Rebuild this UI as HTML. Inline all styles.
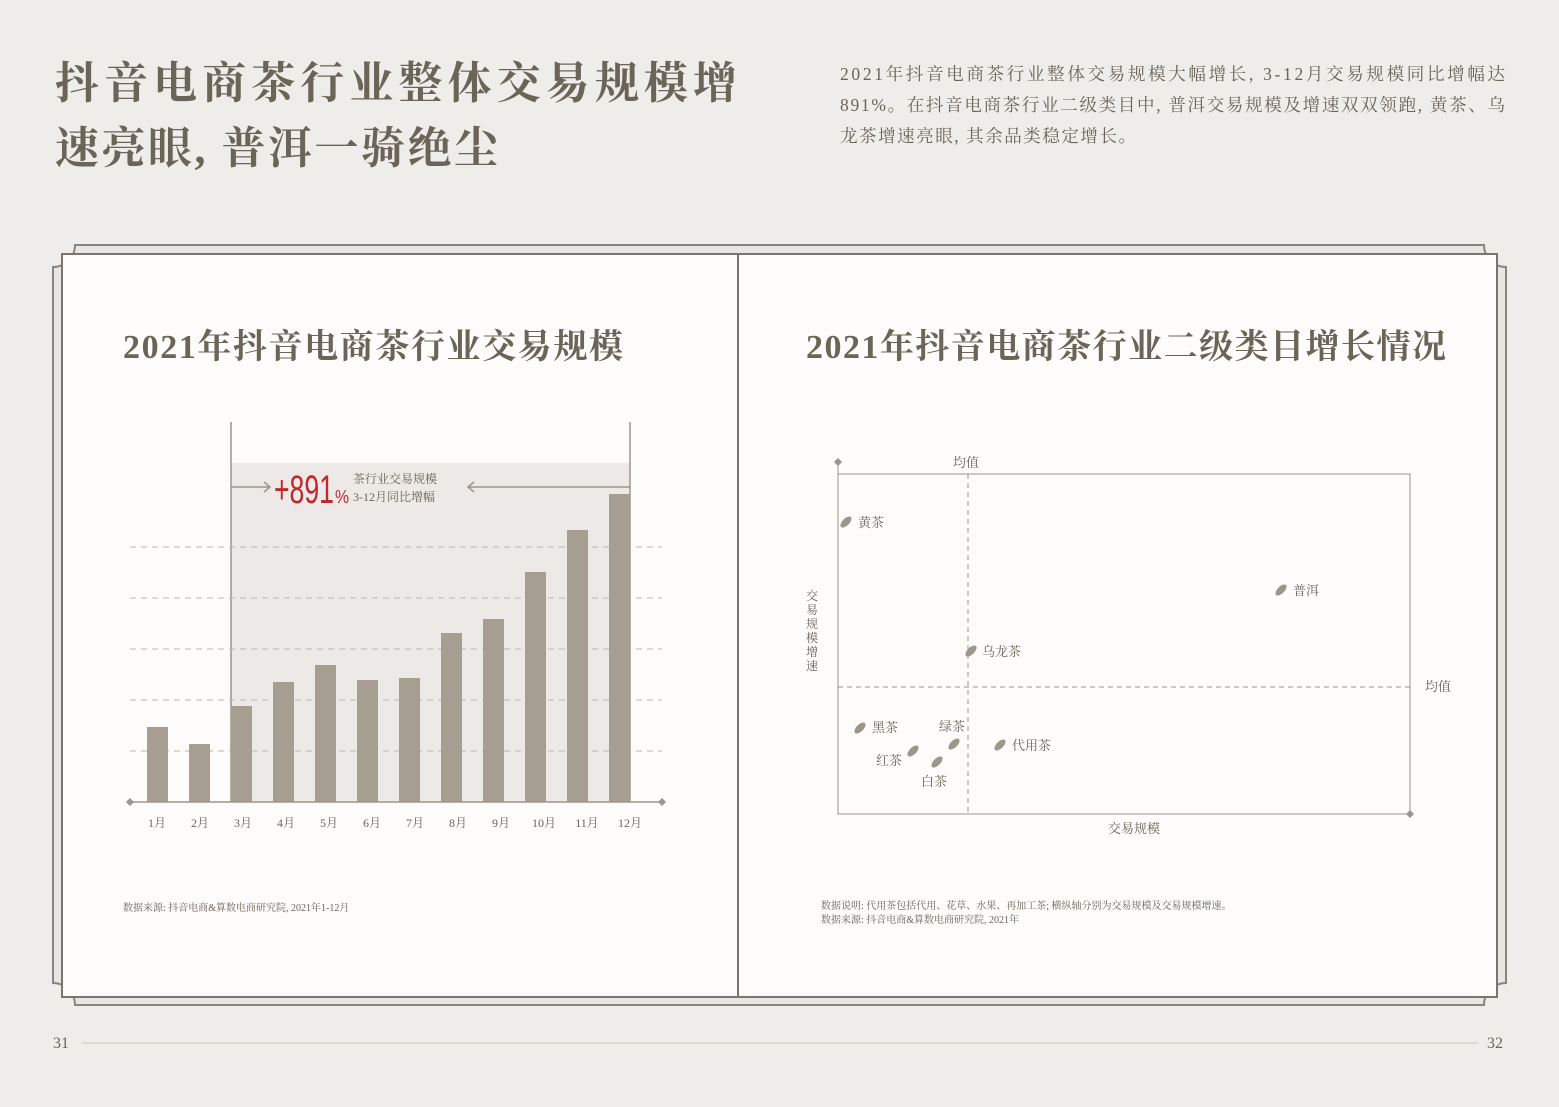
<!DOCTYPE html>
<html><head><meta charset="utf-8"><style>
body{margin:0;width:1559px;height:1102px;background:#efedea;overflow:hidden;font-family:"Liberation Serif","Noto Serif CJK SC",serif;}
</style></head><body>
<svg width="1559" height="1102" xmlns="http://www.w3.org/2000/svg" font-family="Liberation Serif, Noto Serif CJK SC, serif">
<text x="55" y="98" font-size="44" fill="#6b6459" font-weight="bold" textLength="682" lengthAdjust="spacing">抖音电商茶行业整体交易规模增</text>
<text x="55" y="163" font-size="44" fill="#6b6459" font-weight="bold" textLength="443" lengthAdjust="spacing">速亮眼, 普洱一骑绝尘</text>
<g font-size="17.5" fill="#6b6459">
<text x="840" y="80" textLength="665" lengthAdjust="spacing">2021年抖音电商茶行业整体交易规模大幅增长, 3-12月交易规模同比增幅达</text>
<text x="840" y="111" textLength="665" lengthAdjust="spacing">891%。在抖音电商茶行业二级类目中, 普洱交易规模及增速双双领跑, 黄茶、乌</text>
<text x="840" y="142" textLength="296" lengthAdjust="spacing">龙茶增速亮眼, 其余品类稳定增长。</text>
</g>
<!-- frame -->
<path d="M75,245 H1484 A22,22 0 0 0 1506,267 V983 A22,22 0 0 0 1484,1005 H75 A22,22 0 0 0 53,983 V267 A22,22 0 0 0 75,245Z" fill="#e8e6e2" stroke="#8a847b" stroke-width="2"/>
<rect x="62" y="254" width="1435" height="743" fill="#fdfcfa" stroke="#7a746b" stroke-width="2"/>
<line x1="738" y1="254" x2="738" y2="997" stroke="#7a746b" stroke-width="2"/>
<text x="123" y="358" font-size="34" fill="#6b6459" font-weight="bold" textLength="500" lengthAdjust="spacing">2021年抖音电商茶行业交易规模</text>
<text x="806" y="358" font-size="34" fill="#6b6459" font-weight="bold" textLength="640" lengthAdjust="spacing">2021年抖音电商茶行业二级类目增长情况</text>
<!-- left chart -->
<rect x="231" y="463" width="399" height="339" fill="#ece9e6"/>
<line x1="231" y1="422" x2="231" y2="802" stroke="#9c968d" stroke-width="1.5"/>
<line x1="630" y1="422" x2="630" y2="802" stroke="#9c968d" stroke-width="1.5"/>
<g stroke="#bdb8b1" stroke-dasharray="6,5">
<line x1="130" y1="547" x2="662" y2="547"/><line x1="130" y1="598" x2="662" y2="598"/><line x1="130" y1="649" x2="662" y2="649"/><line x1="130" y1="700" x2="662" y2="700"/><line x1="130" y1="751" x2="662" y2="751"/>
</g>
<g fill="#a69e91">
<rect x="147" y="727" width="21" height="75"/><rect x="189" y="744" width="21" height="58"/><rect x="231" y="706" width="21" height="96"/><rect x="273" y="682" width="21" height="120"/><rect x="315" y="665" width="21" height="137"/><rect x="357" y="680" width="21" height="122"/><rect x="399" y="678" width="21" height="124"/><rect x="441" y="633" width="21" height="169"/><rect x="483" y="619" width="21" height="183"/><rect x="525" y="572" width="21" height="230"/><rect x="567" y="530" width="21" height="272"/><rect x="609" y="494" width="21" height="308"/>
</g>
<line x1="130" y1="802" x2="662" y2="802" stroke="#9c968d" stroke-width="1.5"/>
<path d="M130,798 L134,802 130,806 126,802Z M662,798 L666,802 662,806 658,802Z" fill="#9c968d"/>
<g font-size="12" fill="#6b6459" text-anchor="middle">
<text x="157" y="827">1月</text><text x="200" y="827">2月</text><text x="243" y="827">3月</text><text x="286" y="827">4月</text><text x="329" y="827">5月</text><text x="372" y="827">6月</text><text x="415" y="827">7月</text><text x="458" y="827">8月</text><text x="501" y="827">9月</text><text x="544" y="827">10月</text><text x="587" y="827">11月</text><text x="630" y="827">12月</text>
</g>
<g stroke="#9c968d" stroke-width="1.5" fill="none">
<line x1="231" y1="487" x2="270" y2="487"/><path d="M264,482 L270,487 264,492"/>
<line x1="468" y1="487" x2="630" y2="487"/><path d="M474,482 L468,487 474,492"/>
</g>
<text x="274" y="503" font-size="40" fill="#c1272d" font-family="Liberation Sans, sans-serif" textLength="60" lengthAdjust="spacingAndGlyphs">+891</text>
<text x="335" y="503" font-size="18" fill="#c1272d" font-family="Liberation Sans, sans-serif" textLength="14" lengthAdjust="spacingAndGlyphs">%</text>
<text x="353" y="483" font-size="12" fill="#6b6459">茶行业交易规模</text>
<text x="353" y="501" font-size="12" fill="#6b6459">3-12月同比增幅</text>
<text x="123" y="911" font-size="10" fill="#6b6459">数据来源: 抖音电商&amp;算数电商研究院, 2021年1-12月</text>
<!-- right chart -->
<rect x="838" y="474" width="572" height="340" fill="none" stroke="#9c968d" stroke-width="1"/>
<path d="M838,458 L842,462 838,466 834,462Z M1410,810 L1414,814 1410,818 1406,814Z" fill="#9c968d"/>
<line x1="838" y1="462" x2="838" y2="474" stroke="#9c968d"/>
<line x1="968" y1="474" x2="968" y2="814" stroke="#9c968d" stroke-dasharray="5,4"/>
<line x1="838" y1="687" x2="1410" y2="687" stroke="#9c968d" stroke-dasharray="5,4"/>
<g font-size="13" fill="#6b6459">
<text x="953" y="467">均值</text><text x="1425" y="691">均值</text><text x="1108" y="833">交易规模</text>
<text x="806" y="600" font-size="12">交</text><text x="806" y="614" font-size="12">易</text><text x="806" y="628" font-size="12">规</text><text x="806" y="642" font-size="12">模</text><text x="806" y="656" font-size="12">增</text><text x="806" y="670" font-size="12">速</text>
<text x="858" y="527">黄茶</text><text x="1293" y="595">普洱</text><text x="982" y="656">乌龙茶</text><text x="872" y="732">黑茶</text><text x="939" y="731">绿茶</text><text x="1012" y="750">代用茶</text><text x="876" y="765">红茶</text><text x="921" y="786">白茶</text>
</g>
<g fill="#9c968d">
<ellipse cx="846" cy="522" rx="7" ry="3.5" transform="rotate(-45 846 522)"/>
<ellipse cx="1281" cy="590" rx="7" ry="3.5" transform="rotate(-45 1281 590)"/>
<ellipse cx="971" cy="651" rx="7" ry="3.5" transform="rotate(-45 971 651)"/>
<ellipse cx="860" cy="728" rx="7" ry="3.5" transform="rotate(-45 860 728)"/>
<ellipse cx="954" cy="744" rx="7" ry="3.5" transform="rotate(-45 954 744)"/>
<ellipse cx="1000" cy="745" rx="7" ry="3.5" transform="rotate(-45 1000 745)"/>
<ellipse cx="913" cy="751" rx="7" ry="3.5" transform="rotate(-45 913 751)"/>
<ellipse cx="937" cy="762" rx="7" ry="3.5" transform="rotate(-45 937 762)"/>
</g>
<text x="821" y="909" font-size="10" fill="#6b6459">数据说明: 代用茶包括代用、花草、水果、再加工茶; 横纵轴分别为交易规模及交易规模增速。</text>
<text x="821" y="923" font-size="10" fill="#6b6459">数据来源: 抖音电商&amp;算数电商研究院, 2021年</text>
<!-- footer -->
<text x="53" y="1048" font-size="16" fill="#6b6459">31</text>
<text x="1487" y="1048" font-size="16" fill="#6b6459">32</text>
<line x1="82" y1="1043" x2="1478" y2="1043" stroke="#c8c3bb" stroke-width="1"/>
</svg>
</body></html>
